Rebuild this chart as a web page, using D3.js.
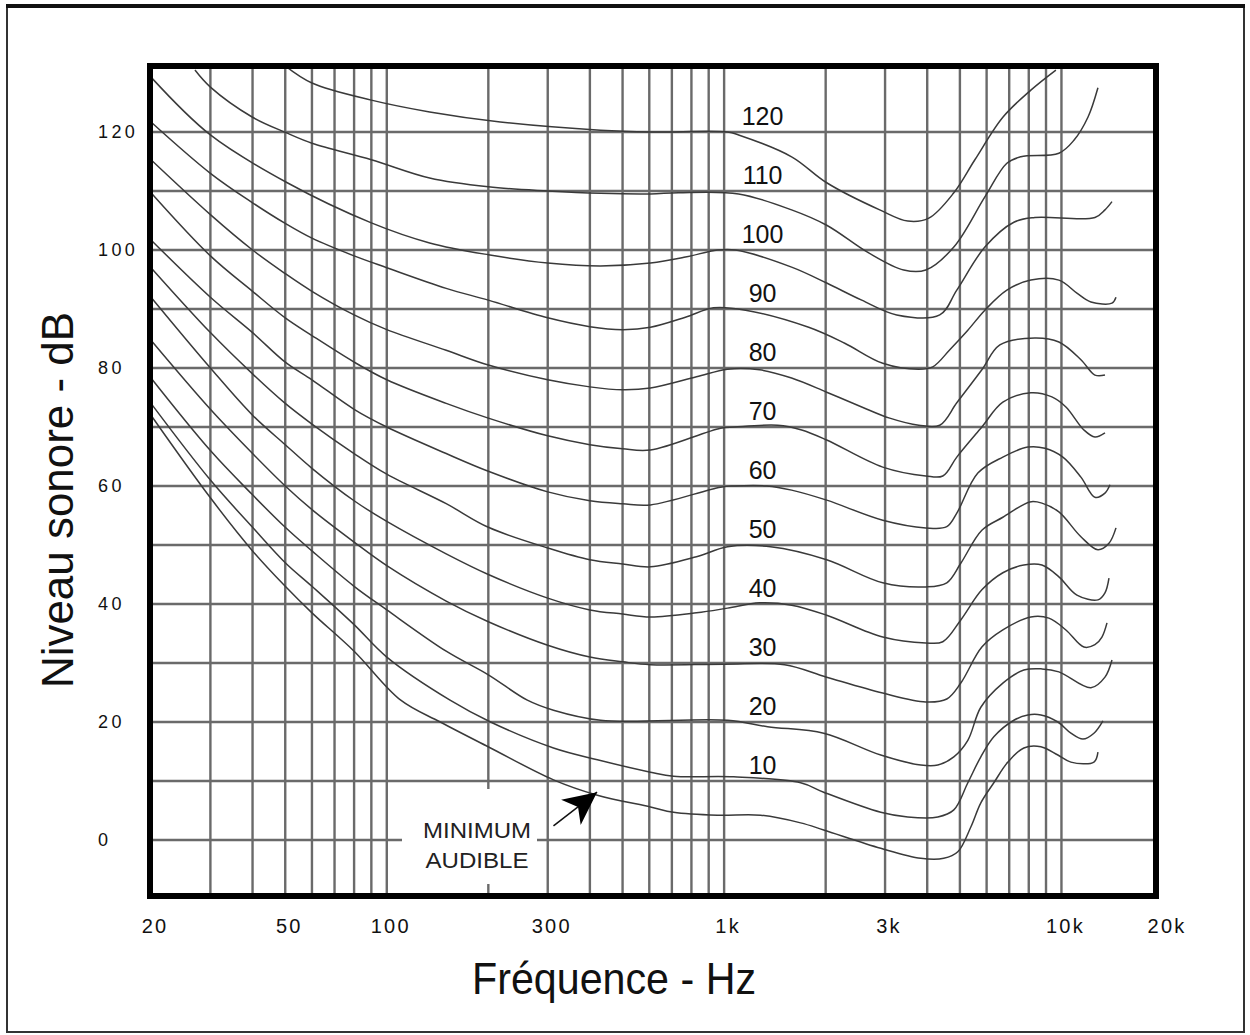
<!DOCTYPE html>
<html><head><meta charset="utf-8">
<script src="https://cdn.jsdelivr.net/npm/d3@7"></script>
<style>
body{margin:0;background:#fff;}
svg{display:block;font-family:"Liberation Sans",Arial,Helvetica,sans-serif;}
</style></head><body>
<svg id="chart" width="1250" height="1035"></svg>
<script>
// ---- data ----
const xTickValues = [20, 50, 100, 300, 1000, 3000, 10000, 20000];
const xTickLabels = ["20", "50", "100", "300", "1k", "3k", "10k", "20k"];
const xGridFreqs = [30,40,50,60,70,80,90,100,200,300,400,500,600,700,800,900,1000,2000,3000,4000,5000,6000,7000,8000,9000,10000];
const yTickValues = [0, 20, 40, 60, 80, 100, 120];
const yGridValues = [0,10,20,30,40,50,60,70,80,90,100,110,120];
const phonLevels = [120,110,100,90,80,70,60,50,40,30,20,10];

const curve120 = [[50,131.2],[60,128.3],[90,125.4],[134,123.4],[217,121.7],[430,120.3],[605,120],[1024,120],[1104,119.5],[1585,115.8],[2014,111.4],[2893,106.8],[3503,104.9],[4044,105.4],[4797,109.7],[5538,115.3],[6703,122.5],[8115,127.1],[9627,130.5]];
const curve110 = [[27,130.5],[30,127.6],[40,122.5],[50.7,119.8],[60,118.1],[90,115.3],[134,112.2],[200,110.7],[300,110],[430,109.6],[605,109.5],[732,109.7],[1104,109.5],[1585,106.8],[2014,104.2],[2683,99.5],[3408,96.6],[3961,96.6],[4797,100.5],[5929,109],[6889,114.7],[7579,115.8],[9826,116.4],[10889,118.6],[11980,122.5],[12828,127.5]];
const curve100 = [[20,129.3],[30,119.5],[50.7,111.4],[90,104.6],[134,101.2],[200,99.2],[300,97.8],[430,97.3],[605,97.8],[768,98.8],[956,100],[1081,100],[1585,97.1],[2014,94.4],[2558,91.5],[3249,89],[4358,89],[4895,93.2],[5929,100.5],[7226,104.7],[8340,105.5],[12568,105.5],[13459,106.8],[14118,108.2]];
const curve90 = [[20,121.7],[30,113],[40,108],[50,104.5],[60,102],[80,99],[100,97],[150,93.5],[200,91.5],[300,88.5],[400,87],[500,86.5],[605,86.9],[768,88.6],[930,90.2],[1158,89.8],[1781,86.9],[2278,84.2],[2953,80.8],[3776,79.8],[4156,80.2],[4667,83.1],[5278,86.4],[5929,89.8],[6889,93.2],[8115,94.9],[9826,94.9],[11114,92.7],[12229,91.2],[14118,91],[14510,92]];
const curve80 = [[20,115.3],[30,106],[40,100],[50,96],[60,93],[80,89],[100,86.5],[150,83],[200,80.5],[300,78],[400,76.8],[500,76.3],[605,76.6],[828,78.5],[1024,79.8],[1274,79.7],[1585,78.3],[2014,75.9],[2558,73.4],[3097,71.5],[3776,70.3],[4358,70.3],[4895,74.1],[5808,79.7],[6567,83.9],[8340,85.1],[9826,84.4],[11421,81.4],[12568,78.8],[13459,78.8]];
const curve70 = [[20,109.7],[30,99],[40,93],[50,88.5],[60,85.5],[80,81],[100,78],[150,74],[200,71.5],[300,68.5],[400,67],[500,66.3],[605,66.1],[976,69.8],[1074,70],[1441,70.3],[1698,69.5],[2014,67.8],[2953,63.2],[3961,61.7],[4449,61.7],[4895,64.9],[5808,70],[6703,74.2],[8115,75.8],[9368,75.1],[10309,73.4],[11657,69.5],[12568,68.3],[13459,69]];
const curve60 = [[20,101.7],[30,92],[40,86],[50,81],[60,78],[80,73],[100,70],[150,65.5],[200,62.5],[300,59],[400,57.5],[500,57],[605,56.8],[976,59.8],[1074,60],[1337,60],[1585,59.3],[2014,57.6],[2953,54.2],[3961,52.9],[4572,53.1],[4895,55.4],[5651,62.2],[6703,64.9],[7950,66.6],[8931,66.4],[10099,64.9],[11421,61.5],[12568,58.1],[13459,58.8],[13927,60.2]];
const curve50 = [[20,97],[30,86],[40,79],[50,74],[60,70.5],[80,65.5],[100,62],[150,57],[200,53],[300,49.5],[400,47.5],[500,46.8],[605,46.3],[828,48],[1024,49.7],[1373,49.7],[2014,47.5],[2953,43.6],[3961,42.9],[4572,43.6],[5030,46.9],[5808,52.5],[6703,54.7],[8059,57.3],[8750,57.1],[9826,55.6],[11421,51.4],[12828,49.2],[13832,50.3],[14510,52.9]];
const curve40 = [[20,92],[30,80],[40,72],[50,67],[60,63],[80,57.5],[100,54],[150,48.5],[200,45],[300,41],[400,39],[500,38.3],[605,37.8],[828,38.5],[1024,39.3],[1274,40.2],[1585,39.8],[2014,38.1],[2953,34.4],[3961,33.4],[4449,33.6],[5030,37.3],[5808,42.4],[6703,45.3],[7736,46.6],[8750,46.6],[9826,44.6],[11114,41.5],[12828,40.7],[13459,41.9],[13832,44.4]];
const curve30 = [[20,84.7],[30,73],[40,65.5],[50,60],[60,56],[80,50.5],[100,46.5],[150,40.5],[200,37],[300,33],[400,31],[500,30.2],[605,29.7],[1003,29.8],[1511,29.7],[2014,27.6],[2953,24.9],[3961,23.4],[4572,23.9],[5030,26.6],[5808,32.7],[6703,35.6],[8115,37.8],[9178,37.6],[10309,35.6],[11657,32.7],[12568,33.1],[13183,34.4],[13645,36.8]];
const curve20 = [[20,78.3],[30,66],[40,58.5],[50,53],[60,49],[80,43],[100,39],[150,32],[200,28],[261,23.7],[312,22],[430,20.3],[1024,20.3],[1346,19.2],[1973,18.1],[2913,14.4],[3828,12.7],[4300,12.7],[4797,14.1],[5278,16.9],[5768,22.5],[6703,26.6],[7736,28.8],[8750,29],[9826,28.5],[12229,25.8],[13459,27.6],[14118,30.5]];
const curve10 = [[20,74],[30,61],[40,53],[50,47],[60,43],[80,36.5],[100,31],[154,23.7],[203,20],[312,15.6],[421,13.6],[605,11.5],[708,10.8],[1067,10.7],[1686,9.7],[1973,8.1],[2913,4.7],[3503,3.9],[4300,3.9],[4797,5.1],[5278,9.7],[5768,14.1],[6303,17.5],[7226,20.3],[7950,21.2],[8690,21.2],[9759,20],[10667,18.1],[11578,17.1],[12482,18.1],[13274,20.2]];
const curveMAF = [[20,72],[30,58],[40,49],[50,43],[60,38.5],[80,32],[110,23.7],[144,20],[203,15.6],[312,10.2],[421,7.6],[605,5.6],[708,4.7],[956,4.2],[1283,4.2],[1686,2.9],[1973,1.7],[2913,-1.4],[3828,-3.1],[4479,-3.1],[4929,-2],[5387,2.2],[5768,6.3],[6303,9.7],[6937,13.2],[7736,15.6],[8690,15.8],[9759,14.4],[10667,13.2],[12482,13.2],[12828,14.9]];

const curves = [curve120, curve110, curve100, curve90, curve80, curve70, curve60, curve50, curve40, curve30, curve20, curve10, curveMAF];
const curveLabelFreq = 1300;
const mafArrowTip = [420, 8.1];
const mafArrowTail = [312, 2.4];
const mafText = ["MINIMUM", "AUDIBLE"];

// ---- layout ----
const svg = d3.select("#chart");
const plot = {left: 150, right: 1156, top: 66, bottom: 896};
const x = d3.scaleLog().domain([20, 20000]).range([151, 1163]);
const y = d3.scaleLinear().domain([0, 120]).range([840, 132]);

// page frame
svg.append("rect").attr("x", 7).attr("y", 6).attr("width", 1237).attr("height", 1026)
  .attr("fill", "none").attr("stroke", "#333").attr("stroke-width", 2);
svg.append("line").attr("x1", 6).attr("x2", 1245).attr("y1", 6).attr("y2", 6)
  .attr("stroke", "#111").attr("stroke-width", 4);

svg.append("defs").append("clipPath").attr("id", "clip").append("rect")
  .attr("x", plot.left).attr("y", plot.top)
  .attr("width", plot.right - plot.left).attr("height", plot.bottom - plot.top);

const g = svg.append("g").attr("clip-path", "url(#clip)");

// grid
g.selectAll("line.vg").data(xGridFreqs).join("line").attr("class", "vg")
  .attr("x1", d => x(d)).attr("x2", d => x(d))
  .attr("y1", plot.top).attr("y2", plot.bottom)
  .attr("stroke", "#6a6a6a").attr("stroke-width", 2.4);
g.selectAll("line.hg").data(yGridValues).join("line").attr("class", "hg")
  .attr("x1", plot.left).attr("x2", plot.right)
  .attr("y1", d => y(d)).attr("y2", d => y(d))
  .attr("stroke", "#6a6a6a").attr("stroke-width", 2.4);

// label box for minimum audible
g.append("rect").attr("x", 402).attr("y", 789).attr("width", 135).attr("height", 95).attr("fill", "#fff");

// curves
const line = d3.line().x(d => x(d[0])).y(d => y(d[1])).curve(d3.curveCatmullRom.alpha(0.5));
g.selectAll("path.curve").data(curves).join("path").attr("class", "curve")
  .attr("d", line).attr("fill", "none").attr("stroke", "#3a3a3a").attr("stroke-width", 1.5);

// curve labels
svg.selectAll("text.cl").data(phonLevels).join("text").attr("class", "cl")
  .attr("x", x(curveLabelFreq)).attr("y", d => y(d) - 16)
  .attr("text-anchor", "middle").attr("dominant-baseline", "central")
  .attr("font-size", 25).attr("fill", "#111").text(d => d);

// MAF annotation
const mt = svg.append("g").attr("font-size", 22).attr("fill", "#222").attr("text-anchor", "middle");
mt.append("text").attr("x", 477).attr("y", 838).attr("textLength", 108).attr("lengthAdjust", "spacingAndGlyphs").text(mafText[0]);
mt.append("text").attr("x", 477).attr("y", 868).attr("textLength", 103).attr("lengthAdjust", "spacingAndGlyphs").text(mafText[1]);

const tip = [x(mafArrowTip[0]), y(mafArrowTip[1])];
const tail = [x(mafArrowTail[0]), y(mafArrowTail[1])];
const ang = Math.atan2(tip[1] - tail[1], tip[0] - tail[0]) * 180 / Math.PI;
svg.append("line").attr("x1", tail[0]).attr("y1", tail[1]).attr("x2", tip[0]).attr("y2", tip[1])
  .attr("stroke", "#111").attr("stroke-width", 1.5);
svg.append("path").attr("d", "M0,0 L-33,-16 L-24,0 L-33,16 Z")
  .attr("transform", `translate(${tip[0]},${tip[1]}) rotate(${ang})`).attr("fill", "#000");

// frame
svg.append("rect").attr("x", plot.left).attr("y", plot.top)
  .attr("width", plot.right - plot.left).attr("height", plot.bottom - plot.top)
  .attr("fill", "none").attr("stroke", "#000").attr("stroke-width", 6);

// x tick labels
svg.selectAll("text.xt").data(xTickValues).join("text").attr("class", "xt")
  .attr("x", d => x(d) + 4).attr("y", 933).attr("text-anchor", "middle")
  .attr("font-size", 20).attr("letter-spacing", 2.2).attr("fill", "#111")
  .text((d, i) => xTickLabels[i]);

// y tick labels
svg.selectAll("text.yt").data(yTickValues).join("text").attr("class", "yt")
  .attr("x", 98).attr("y", d => y(d)).attr("dominant-baseline", "central")
  .attr("font-size", 18).attr("letter-spacing", 3.4).attr("fill", "#111")
  .text(d => d);

// axis titles
svg.append("text").attr("x", 614).attr("y", 994).attr("text-anchor", "middle")
  .attr("font-size", 44).attr("textLength", 284).attr("lengthAdjust", "spacingAndGlyphs")
  .attr("fill", "#111").text("Fréquence - Hz");
svg.append("text").attr("transform", "translate(73,500) rotate(-90)").attr("text-anchor", "middle")
  .attr("font-size", 44).attr("textLength", 376).attr("lengthAdjust", "spacingAndGlyphs")
  .attr("fill", "#111").text("Niveau sonore - dB");
</script>
</body></html>
